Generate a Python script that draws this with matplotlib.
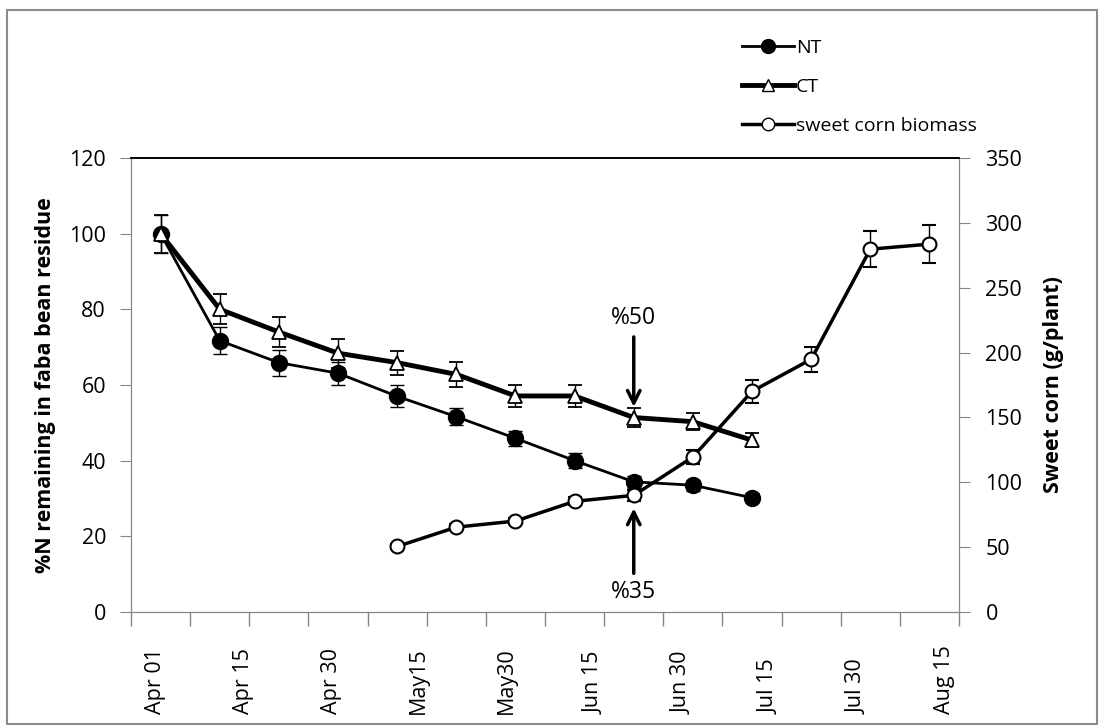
import matplotlib as mpl
import matplotlib.pyplot as plt
import numpy as np
from matplotlib.lines import Line2D
from matplotlib.patches import Rectangle
from matplotlib.transforms import blended_transform_factory

mpl.rcParams["font.family"] = ["Open Sans", "DejaVu Sans"]

# --- data ---
date_labels = ["Apr 01", "Apr 15", "Apr 30", "May15", "May30",
               "Jun 15", "Jun 30", "Jul 15", "Jul 30", "Aug 15"]
n_cats = 14

nt_idx = list(range(0, 11))
nt_vals = [100, 71.7, 65.9, 63.1, 57.0, 51.6, 45.9, 40.0, 34.4, 33.5, 30.2]
nt_err = [5.0, 3.5, 3.4, 3.0, 2.9, 2.2, 2.0, 1.9, 1.5, 1.5, 1.2]

ct_idx = list(range(0, 11))
ct_vals = [100, 80.0, 74.0, 68.4, 65.9, 62.8, 57.1, 57.1, 51.4, 50.3, 45.4]
ct_err = [5.0, 4.0, 4.0, 3.8, 3.2, 3.3, 2.9, 2.9, 2.5, 2.3, 1.9]

corn_idx = list(range(4, 14))
corn_vals = [50.5, 65.4, 70.1, 85.3, 89.9, 119.5, 170.1, 194.8, 279.7, 283.6]
corn_err = [2.0, 2.5, 2.5, 3.0, 4.0, 5.5, 9.0, 9.5, 14.0, 14.5]

spine_grey = "#868686"
tick_fs = 15.5

fig = plt.figure(figsize=(11.04, 7.25), dpi=100)
ax = fig.add_axes([0.1187, 0.1559, 0.75, 0.6262])
ax2 = ax.twinx()

# outer chart border
fig.add_artist(Rectangle((7 / 1104, 0.002), 1090 / 1104, 1 - 10 / 725 - 0.002,
                         transform=fig.transFigure, fill=False,
                         edgecolor="#8c8c8c", linewidth=1.5))

ax.errorbar(nt_idx, nt_vals, yerr=nt_err, color="k", lw=2.0, marker="o",
            ms=11.5, mfc="k", mec="k", ecolor="k", elinewidth=1.0,
            capsize=5, capthick=1.0, zorder=3)
ax.errorbar(ct_idx, ct_vals, yerr=ct_err, color="k", lw=3.5, marker="^",
            ms=10, mfc="white", mec="k", mew=1.3, ecolor="k", elinewidth=1.0,
            capsize=5, capthick=1.0, zorder=4)
ax2.errorbar(corn_idx, corn_vals, yerr=corn_err, color="k", lw=2.5, marker="o",
             ms=10, mfc="white", mec="k", mew=1.5, ecolor="k", elinewidth=1.0,
             capsize=5, capthick=1.0, zorder=3)

# annotations
arrow_kw = dict(arrowstyle="->,head_length=0.9,head_width=0.45",
                color="k", lw=2.5, shrinkA=0, shrinkB=0)
ax.annotate("", xy=(8, 54.2), xytext=(8, 72.7), arrowprops=arrow_kw)
ax.text(8, 77.7, "%50", fontsize=16.5, ha="center", va="center")
ax.annotate("", xy=(8, 27.4), xytext=(8, 10.2), arrowprops=arrow_kw)
ax.text(8, 5.4, "%35", fontsize=16.5, ha="center", va="center")

# axes limits / ticks
ax.set_xlim(-0.5, n_cats - 0.5)
ax.set_ylim(0, 120)
ax2.set_ylim(0, 350)
ax.set_yticks(np.arange(0, 121, 20))
ax2.set_yticks(np.arange(0, 351, 50))

ax.set_xticks(np.arange(-0.5, n_cats, 1.0))
ax.set_xticklabels([])
ax.tick_params(axis="x", which="major", direction="out", length=10,
               color=spine_grey, width=1)
ax.tick_params(axis="y", direction="out", length=8, color=spine_grey,
               labelsize=tick_fs, pad=10)
ax2.tick_params(axis="y", direction="out", length=8, color=spine_grey,
                labelsize=tick_fs, pad=11)

# date labels: rotated, bottoms aligned near the figure edge
lab_tr = blended_transform_factory(ax.transData, fig.transFigure)
for xpos, lab in zip(np.linspace(-0.08, 13.26, len(date_labels)), date_labels):
    ax.text(xpos, 1 - 714 / 725, lab, transform=lab_tr, rotation=90,
            ha="center", va="bottom", fontsize=tick_fs)

for a in (ax, ax2):
    for side in ("left", "right", "bottom"):
        a.spines[side].set_color(spine_grey)
    a.spines["top"].set_color("k")
    a.spines["top"].set_linewidth(1.2)

# axis titles centred on the plot area, at fixed figure x
title_tr = blended_transform_factory(fig.transFigure, ax.transAxes)
ax.set_ylabel("%N remaining in faba bean residue", fontsize=15.5,
              fontweight="bold")
ax.yaxis.set_label_coords(46 / 1104, 0.5, transform=title_tr)
ax2.set_ylabel("Sweet corn (g/plant)", fontsize=15.5, fontweight="bold")
ax2.yaxis.set_label_coords(1054 / 1104, 0.5, transform=title_tr)
ax2.yaxis.label.set_verticalalignment("center")
ax.yaxis.label.set_verticalalignment("center")

# legend
handles = [
    Line2D([], [], color="k", lw=2.0, marker="o", ms=10, mfc="k", mec="k"),
    Line2D([], [], color="k", lw=3.5, marker="^", ms=9, mfc="white", mec="k"),
    Line2D([], [], color="k", lw=2.5, marker="o", ms=9, mfc="white", mec="k"),
]
fig.legend(handles, ["NT", "CT", "sweet corn biomass"], loc="upper left",
           bbox_to_anchor=(734 / 1104, 1 - 31 / 725), frameon=False,
           fontsize=14, handlelength=2.7, handletextpad=0.1,
           labelspacing=1.08, borderaxespad=0)

fig.savefig("out.png", dpi=100, facecolor="white")
plt.close(fig)
